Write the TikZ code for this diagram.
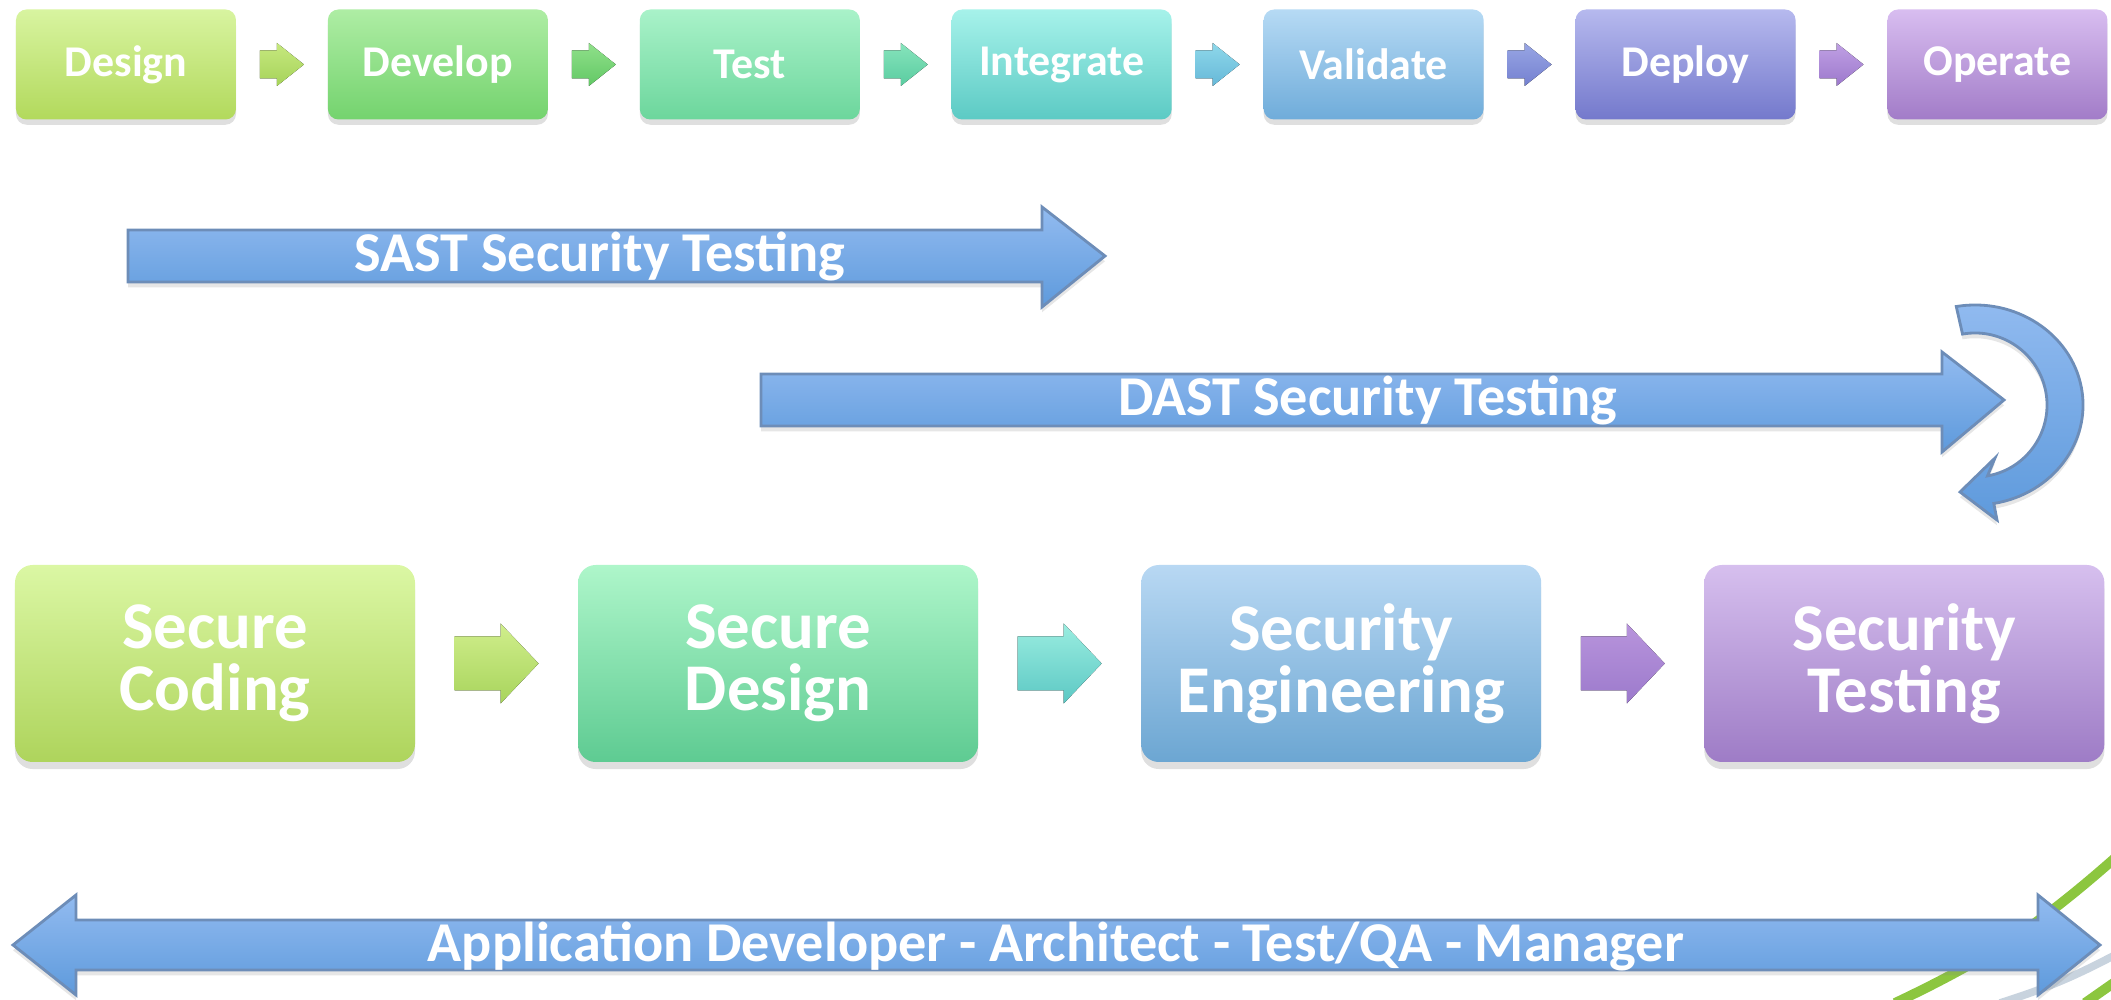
\documentclass[tikz,border=0pt]{standalone}
\usepackage{fontspec}
\setmainfont{Carlito}
\usepackage{xcolor}
\usepackage{tikz}
\usetikzlibrary{calc}
\usetikzlibrary{positioning}
\usetikzlibrary{shadows}

% stage colours (top / bottom)
\definecolor{st1}{HTML}{D8F4A0}
\definecolor{sb1}{HTML}{B2D95C}
\definecolor{st2}{HTML}{AEEDA4}
\definecolor{sb2}{HTML}{74D36E}
\definecolor{st3}{HTML}{A9F2C9}
\definecolor{sb3}{HTML}{6CD69C}
\definecolor{st4}{HTML}{A6F2EA}
\definecolor{sb4}{HTML}{5CCAC4}
\definecolor{st5}{HTML}{B6DAF4}
\definecolor{sb5}{HTML}{6FACDA}
\definecolor{st6}{HTML}{B6B9EE}
\definecolor{sb6}{HTML}{7479CC}
\definecolor{st7}{HTML}{D8BDF0}
\definecolor{sb7}{HTML}{A27CC8}
% small arrows
\definecolor{gt1}{HTML}{C6E87E}
\definecolor{gb1}{HTML}{A6D35A}
\definecolor{gt2}{HTML}{90E08A}
\definecolor{gb2}{HTML}{62C865}
\definecolor{gt3}{HTML}{86E4BC}
\definecolor{gb3}{HTML}{5ACCA0}
\definecolor{gt4}{HTML}{8ED8EA}
\definecolor{gb4}{HTML}{66B8D8}
\definecolor{gt5}{HTML}{98A6E4}
\definecolor{gb5}{HTML}{7480D0}
\definecolor{gt6}{HTML}{C0A0E4}
\definecolor{gb6}{HTML}{9C78CC}
% phase colours
\definecolor{pt1}{HTML}{DBF7A4}
\definecolor{pb1}{HTML}{AED45C}
\definecolor{pt2}{HTML}{AEF6CA}
\definecolor{pb2}{HTML}{5ECB92}
\definecolor{pt3}{HTML}{B8D8F3}
\definecolor{pb3}{HTML}{6CA6D2}
\definecolor{pt4}{HTML}{D6BFEE}
\definecolor{pb4}{HTML}{9E7CC6}
\definecolor{ht1}{HTML}{D0EE8C}
\definecolor{hb1}{HTML}{A8D45C}
\definecolor{ht2}{HTML}{9AEDE0}
\definecolor{hb2}{HTML}{5CC8C4}
\definecolor{ht3}{HTML}{B894DC}
\definecolor{hb3}{HTML}{9C7ACC}
% bands
\definecolor{bandtop}{HTML}{92BBF0}
\definecolor{bandbot}{HTML}{5E9ADC}
\definecolor{bandline}{HTML}{6D8DB8}
\definecolor{swoosh}{HTML}{8CC63F}
\definecolor{swooshgray}{HTML}{C8D3DE}

\begin{document}
\begin{tikzpicture}[
    stage/.style={rounded corners=3pt, minimum width=2.2cm, minimum height=1.1cm,
      text=white, font=\bfseries\fontsize{12.5}{14}\selectfont,
      drop shadow={opacity=0.25, shadow xshift=0pt, shadow yshift=-1.5pt}},
    phase/.style={rounded corners=5pt, minimum width=4cm, minimum height=1.97cm,
      align=center, text=white, font=\bfseries\fontsize{19}{17.5}\selectfont,
      drop shadow={opacity=0.25, shadow xshift=0pt, shadow yshift=-2pt}},
    band/.style={top color=bandtop, bottom color=bandbot, draw=bandline,
      line width=0.8pt, drop shadow={opacity=0.2, shadow xshift=0pt, shadow yshift=-1.5pt}},
    bandtext/.style={text=white, font=\bfseries\fontsize{16}{18}\selectfont}]

    \useasboundingbox (0, 0) rectangle (21.11, 9.99);

    % corner swoosh
    \draw [line width=2.8pt, swoosh] (21.15, 1.41) to [bend left=8] (18.95, -0.04);
    \draw [line width=2.2pt, swooshgray] (21.15, 0.44) to [bend left=5] (20.0, -0.04);
    \draw [line width=2.8pt, swoosh] (21.15, 0.17) -- (20.85, -0.04);

    % stages
    \node [stage, top color=st1, bottom color=sb1] (s1) at (1.26, 9.345) {Design};
    \foreach \i/\t [remember=\i as \j (initially 1)] in
      {2/Develop, 3/Test, 4/Integrate, 5/Validate, 6/Deploy, 7/Operate} {
      \node [stage, top color=st\i, bottom color=sb\i, right=0.905cm of s\j] (s\i) {\t};
    }
    \foreach \i [evaluate=\i as \k using int(\i+1)] in {1, ..., 6} {
      \coordinate (g\i) at ($(s\i.east)!0.5!(s\k.west)$);
      \filldraw [top color=gt\i, bottom color=gb\i, draw=none] (g\i)
      ++(-0.22, 0.14) -- ++(0.17, 0) -- ++(0, 0.075) -- ++(0.27, -0.215)
      -- ++(-0.27, -0.215) -- ++(0, 0.075) -- ++(-0.17, 0) -- cycle;
    }

    % testing bands
    \filldraw [band] (1.28, 7.69) -- (10.42, 7.69) -- (10.42, 7.92) -- (11.05, 7.43)
      -- (10.42, 6.92) -- (10.42, 7.17) -- (1.28, 7.17) -- cycle;
    \node [bandtext] (sast) at (6.0, 7.42) {SAST Security Testing};
    \filldraw [band] (7.61, 6.25) -- (19.42, 6.25) -- (19.42, 6.47) -- (20.04, 5.99)
      -- (19.42, 5.47) -- (19.42, 5.73) -- (7.61, 5.73) -- cycle;
    \node [bandtext] (dast) at (13.68, 5.98) {DAST Security Testing};
    \filldraw [band] (19.75, 5.94) ++(100:1.08 and 1.00)
      arc [start angle=100, end angle=-80, x radius=1.08, y radius=1.00]
      -- (19.97, 4.79) -- (19.60, 5.07) -- (19.95, 5.41) -- (19.875, 5.231)
      arc [start angle=-80, end angle=100, x radius=0.72, y radius=0.72] -- cycle;

    % phases
    \node [phase, top color=pt1, bottom color=pb1] (p1) at (2.15, 3.355) {Secure\\Coding};
    \foreach \i/\t [remember=\i as \j (initially 1)] in
      {2/{Secure\\Design}, 3/{Security\\Engineering}, 4/{Security\\Testing}} {
      \node [phase, top color=pt\i, bottom color=pb\i, right=1.617cm of p\j] (p\i) {\t};
    }
    \foreach \i [evaluate=\i as \k using int(\i+1)] in {1, 2, 3} {
      \coordinate (h\i) at ($(p\i.east)!0.5!(p\k.west)$);
      \filldraw [top color=ht\i, bottom color=hb\i, draw=none] (h\i)
      ++(-0.42, 0.27) -- ++(0.46, 0) -- ++(0, 0.13) -- ++(0.38, -0.40)
      -- ++(-0.38, -0.40) -- ++(0, 0.13) -- ++(-0.46, 0) -- cycle;
    }

    % roles
    \filldraw [band] (0.13, 0.54) -- (0.76, 1.04) -- (0.76, 0.79) -- (20.38, 0.79)
      -- (20.38, 1.04) -- (21.00, 0.54) -- (20.38, 0.04) -- (20.38, 0.29)
      -- (0.76, 0.29) -- (0.76, 0.04) -- cycle;
    \node [bandtext] (roles) at (10.56, 0.53) {Application Developer - Architect - Test/QA - Manager};

  \end{tikzpicture}
\end{document}
